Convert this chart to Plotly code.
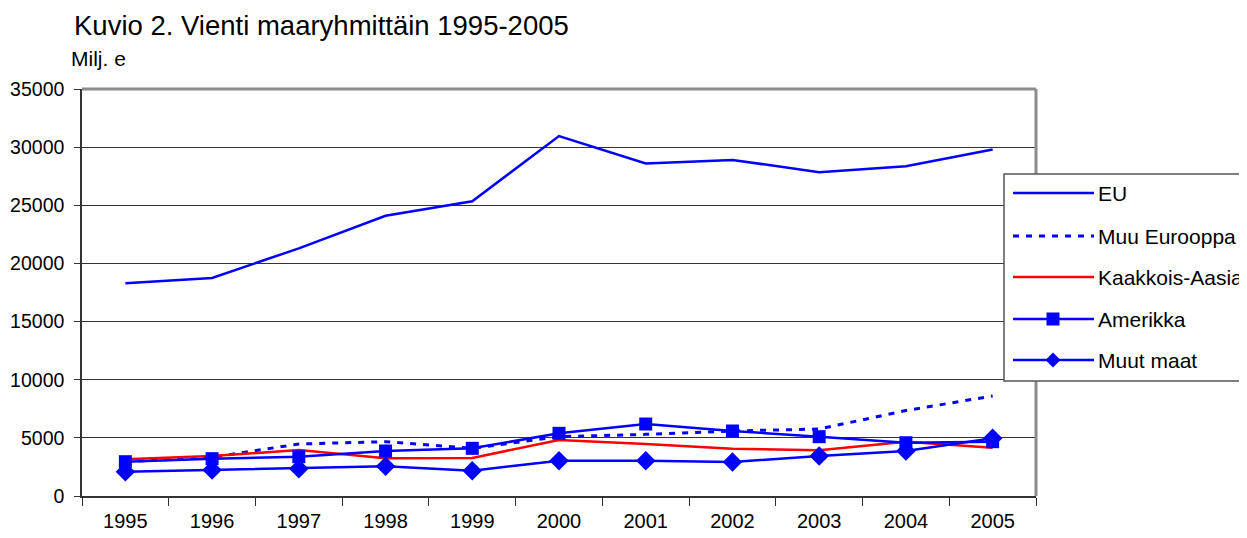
import plotly.graph_objects as go

years = ["1995", "1996", "1997", "1998", "1999", "2000", "2001", "2002", "2003", "2004", "2005"]
eu = [18300, 18750, 21300, 24100, 25350, 30950, 28600, 28900, 27850, 28350, 29800]
muu_eurooppa = [2950, 3330, 4470, 4670, 4100, 5100, 5300, 5590, 5760, 7350, 8600]
kaakkois_aasia = [3160, 3440, 3950, 3240, 3270, 4820, 4470, 4070, 3930, 4670, 4150]
amerikka = [2950, 3210, 3380, 3870, 4100, 5390, 6190, 5590, 5100, 4580, 4670]
muut_maat = [2090, 2240, 2350, 2550, 2180, 3040, 3040, 2920, 3440, 3870, 4960]

series_names = ["EU", "Muu Eurooppa", "Kaakkois-Aasia", "Amerikka", "Muut maat"]
y_ticks = [0, 5000, 10000, 15000, 20000, 25000, 30000, 35000]

BLUE = "#0000FF"
RED = "#FF0000"
FONT = "Liberation Sans, Arial, sans-serif"

# page offset (default body margin) and plot area in window pixels
OFF = 8
L, R, T, B = 82, 1036, 89, 496
W, H = 1247 - OFF, 538 - OFF

fig = go.Figure()
fig.add_trace(go.Scatter(x=years, y=eu, name=series_names[0], mode="lines",
                         line=dict(color=BLUE, width=2.5)))
fig.add_trace(go.Scatter(x=years, y=muu_eurooppa, name=series_names[1], mode="lines",
                         line=dict(color=BLUE, width=3, dash="6px,7px")))
fig.add_trace(go.Scatter(x=years, y=kaakkois_aasia, name=series_names[2], mode="lines",
                         line=dict(color=RED, width=2.5)))
fig.add_trace(go.Scatter(x=years, y=amerikka, name=series_names[3], mode="lines+markers",
                         line=dict(color=BLUE, width=2.5),
                         marker=dict(symbol="square", size=13, color=BLUE)))
fig.add_trace(go.Scatter(x=years, y=muut_maat, name=series_names[4], mode="lines+markers",
                         line=dict(color=BLUE, width=2.5),
                         marker=dict(symbol="diamond", size=15, color=BLUE)))


def px(x):
    return (x - L) / (R - L)


def py(y):
    return (B - y) / (B - T)


shapes = []
# plot area border top/right (gray)
shapes.append(dict(type="line", xref="paper", yref="paper", x0=0, x1=1, y0=1, y1=1,
                   line=dict(color="#8c8c8c", width=3)))
shapes.append(dict(type="line", xref="paper", yref="paper", x0=1, x1=1, y0=0, y1=1,
                   line=dict(color="#8c8c8c", width=3)))
# legend box
shapes.append(dict(type="rect", xref="paper", yref="paper", x0=px(1004), x1=px(1265),
                   y0=py(381), y1=py(174), fillcolor="white",
                   line=dict(color="#555555", width=1.5), layer="above"))

annotations = []
rows = [193, 236, 277, 319, 360]
styles = [
    dict(color=BLUE, dash="solid", marker=None),
    dict(color=BLUE, dash="6px,7px", marker=None),
    dict(color=RED, dash="solid", marker=None),
    dict(color=BLUE, dash="solid", marker="square"),
    dict(color=BLUE, dash="solid", marker="diamond"),
]
for name, yrow, st in zip(series_names, rows, styles):
    shapes.append(dict(type="line", xref="paper", yref="paper", x0=px(1013), x1=px(1094),
                       y0=py(yrow), y1=py(yrow),
                       line=dict(color=st["color"], width=3 if st["dash"] != "solid" else 2.5,
                                 dash=st["dash"]), layer="above"))
    cx = 1053
    if st["marker"] == "square":
        shapes.append(dict(type="rect", xref="paper", yref="paper", x0=px(cx - 6.5), x1=px(cx + 6.5),
                           y0=py(yrow + 6.5), y1=py(yrow - 6.5), fillcolor=BLUE,
                           line=dict(color=BLUE, width=0), layer="above"))
    elif st["marker"] == "diamond":
        d = 7.5
        path = "M {} {} L {} {} L {} {} L {} {} Z".format(
            px(cx - d), py(yrow), px(cx), py(yrow - d), px(cx + d), py(yrow), px(cx), py(yrow + d))
        shapes.append(dict(type="path", xref="paper", yref="paper", path=path, fillcolor=BLUE,
                           line=dict(color=BLUE, width=0), layer="above"))
    annotations.append(dict(text=name, xref="paper", yref="paper", x=px(1096), y=py(yrow),
                            xanchor="left", yanchor="middle", showarrow=False,
                            font=dict(family=FONT, size=21, color="black")))

annotations.append(dict(text="Kuvio 2. Vienti maaryhmittäin 1995-2005", xref="paper", yref="paper",
                        x=px(72), y=py(25), xanchor="left", yanchor="middle", showarrow=False,
                        font=dict(family=FONT, size=27.5, color="black")))
annotations.append(dict(text="Milj. e", xref="paper", yref="paper",
                        x=px(69), y=py(58), xanchor="left", yanchor="middle", showarrow=False,
                        font=dict(family=FONT, size=21, color="black")))

fig.update_layout(
    width=W, height=H,
    margin=dict(l=L - OFF, r=W - (R - OFF), t=T - OFF, b=H - (B - OFF)),
    paper_bgcolor="white", plot_bgcolor="white",
    showlegend=False,
    font=dict(family=FONT, size=20, color="black"),
    shapes=shapes,
    annotations=annotations,
    xaxis=dict(type="category", tickson="boundaries", showgrid=False,
               showline=True, linecolor="#333333", linewidth=1.5,
               ticks="outside", ticklen=8, tickcolor="#333333",
               ticklabelstandoff=6, automargin=False,
               tickfont=dict(family=FONT, size=20, color="black"),
               range=[-0.5, 10.5], zeroline=False),
    yaxis=dict(range=[0, 35000], tickvals=y_ticks, ticktext=[str(v) for v in y_ticks],
               showgrid=True, gridcolor="#333333", gridwidth=1,
               showline=True, linecolor="#333333", linewidth=1.5,
               ticks="outside", ticklen=6, tickcolor="#333333",
               ticklabelstandoff=6, automargin=False,
               tickfont=dict(family=FONT, size=19.5, color="black"),
               zeroline=False),
)

fig.write_html("out.html")
